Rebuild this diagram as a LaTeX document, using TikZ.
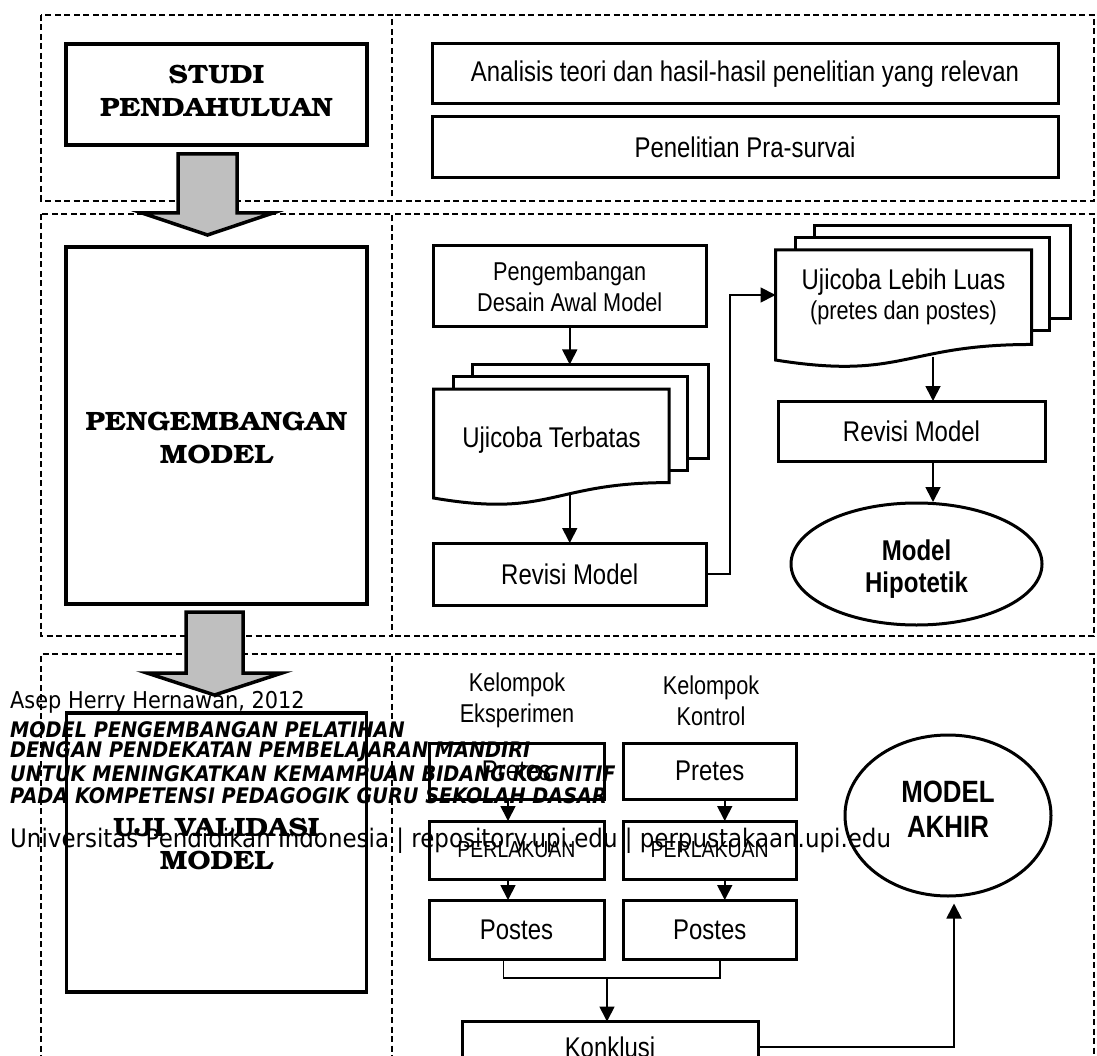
\documentclass[tikz,border=0pt]{standalone}
\usepackage{fontspec}
\usetikzlibrary{arrows.meta,calc,shapes.geometric}
\newfontfamily\nar{Liberation Sans}[FakeStretch=0.84]
\newfontfamily\bonum{texgyrebonum}[Extension=.otf,UprightFont=*-regular,BoldFont=*-bold,FakeStretch=1.1]
\newfontfamily\wmf{DejaVu Sans}[FakeStretch=0.9]
\newcommand\fs[2]{\fontsize{#1pt}{#2pt}\selectfont}
\newcommand\multidoc[1]{%
  \draw[docline] ($(#1.north west)+(39,-24.5)$) rectangle ($(#1.north east)+(39,69)$);
  \draw[docline] ($(#1.north west)+(19.5,-12.3)$) rectangle ($(#1.north east)+(18,81)$);
  \draw[docline] (#1.north west) -- (#1.north east) -- ($(#1.north east)!0.802!(#1.south east)$)
    .. controls ($(#1.north)!0.802!(#1.south)$) and ($(#1.north)!1.1075!(#1.south)$) ..
    ($(#1.north west)!0.934!(#1.south west)$) -- cycle;
}
\begin{document}
\begin{tikzpicture}[x=1pt,y=-1pt,
  frame/.style={draw, line width=1.3pt, dash pattern=on 6pt off 3.5pt},
  bigbox/.style={draw, line width=3.3pt, fill=white, inner sep=0pt, outer sep=0pt},
  bigtext/.style={inner sep=0pt, align=center, font=\bonum\bfseries\fs{26.5}{33}},
  box/.style={draw, line width=3pt, fill=white, inner sep=0pt, outer sep=0pt, align=center, font=\nar\fs{28.5}{31}},
  docnode/.style={inner sep=0pt, outer sep=0pt},
  docline/.style={draw, line width=3pt, fill=white, line join=miter},
  lbl/.style={inner sep=0pt, align=center, font=\nar\fs{25.8}{31}},
  conn/.style={line width=1.8pt},
  arr/.style={conn, -{Triangle[length=15pt,width=15pt]}},
  blockarrow/.style={draw, line width=3.5pt, fill=black!25, line join=miter},
  wm/.style={anchor=west, inner sep=0pt}
]
\useasboundingbox (0,0) rectangle (1097,1056);
\fill[white] (0,0) rectangle (1097,1056);

% dashed frames
\draw[frame] (41,15) rectangle (392,201);
\draw[frame] (395,15) -- (1094,15) -- (1094,201) -- (395,201);
\draw[frame] (41,214) rectangle (392,636);
\draw[frame] (395,214) -- (1094,214) -- (1094,636) -- (395,636);
\draw[frame] (41,1080) -- (41,654) -- (392,654) -- (392,1080);
\draw[frame] (395,654) -- (1094,654) -- (1094,1080);

% block arrows
\draw[blockarrow] (178,154) -- (237,154) -- (237,213) -- (273,213) -- (207.5,235) -- (142,213) -- (178,213) -- cycle;
\draw[blockarrow] (186,612) -- (243,612) -- (243,673) -- (282,673) -- (214.5,695) -- (147,673) -- (186,673) -- cycle;

% left column
\node[bigbox, minimum width=301pt, minimum height=101pt] (studi) at (216.5,94.5) {};
\node[bigtext] (studit) at ($(studi)+(0,-3.5)$) {STUDI\\PENDAHULUAN};
\node[bigbox, minimum width=301pt, minimum height=357pt] (pmodel) at (216.5,425.5) {};
\node[bigtext] (pmodelt) at ($(pmodel)+(0,12.5)$) {PENGEMBANGAN\\MODEL};
\node[bigbox, minimum width=300pt, minimum height=279pt] (uji) at (216.5,852.5) {};
\node[bigtext] (ujit) at ($(uji)+(0,-9)$) {UJI VALIDASI\\MODEL};

% top right
\node[box, minimum width=626pt, minimum height=60pt] (ana) at (745,74) {Analisis teori dan hasil-hasil penelitian yang relevan};
\node[box, minimum width=626pt, minimum height=61pt] (pra) at (745,147.5) {Penelitian Pra-survai};

% middle right
\node[box, font=\nar\fs{25.8}{31}, minimum width=272.5pt, minimum height=81pt] (desain) at (569.75,286.5) {Pengembangan\\Desain Awal Model};
\node[docnode, minimum width=235.5pt, minimum height=116.7pt] (ujiT) at (551.25,447.35) {};
\multidoc{ujiT}
\node[lbl, font=\nar\fs{28.5}{31}] (ujiTt) at (551.5,440) {Ujicoba Terbatas};
\node[box, minimum width=272.5pt, minimum height=62pt] (revL) at (569.75,574) {Revisi Model};
\node[docnode, minimum width=256pt, minimum height=117.8pt] (ujiL) at (903.5,308.9) {};
\multidoc{ujiL}
\node[lbl, font=\nar\fs{25.8}{30}] (ujiLt) at (903.5,297) {{\fs{28.5}{30}Ujicoba Lebih Luas}\\(pretes dan postes)};
\node[box, minimum width=267pt, minimum height=60pt] (revR) at (911.5,431) {Revisi Model};
\node[ellipse, draw, line width=3pt, fill=white, inner sep=0pt, minimum width=251pt, minimum height=122pt] (hip) at (916.5,564) {};
\node[lbl, font=\nar\bfseries\fs{28.6}{32}] (hipt) at ($(hip)+(0,5)$) {Model\\Hipotetik};

\draw[arr] (desain.south) -- ($(ujiT.north)+(18.5,-24.5)$);
\draw[arr] ($(ujiT.south)+(18.5,-11)$) -- (revL.north);
\draw[arr] (revL.east) -- ++(24,0) |- ($(ujiL.north west)+(0,45)$);
\draw[arr] ($(ujiL.south)+(29.5,-11)$) -- ($(revR.north)+(21.5,0)$);
\draw[arr] ($(revR.south)+(21.5,0)$) -- ($(hip.north)+(16.5,0.5)$);

% bottom right
\node[lbl] (kel1) at (517,700.5) {Kelompok\\Eksperimen};
\node[lbl] (kel2) at (711,700.5) {Kelompok\\Kontrol};
\node[box, minimum width=175pt, minimum height=56pt] (pre1) at (516.5,771) {Pretes};
\node[box, minimum width=173.5pt, minimum height=56pt] (pre2) at (709.75,771) {Pretes};
\node[box, font=\nar\fs{23.2}{26}, minimum width=175pt, minimum height=58pt] (per1) at (516.5,850) {PERLAKUAN};
\node[box, font=\nar\fs{23.2}{26}, minimum width=173.5pt, minimum height=58pt] (per2) at (709.75,850) {PERLAKUAN};
\node[box, minimum width=175pt, minimum height=59pt] (pos1) at (516.5,929.5) {Postes};
\node[box, minimum width=173.5pt, minimum height=59pt] (pos2) at (709.75,929.5) {Postes};
\node[box, minimum width=296pt, minimum height=51pt] (konk) at (610,1047) {Konklusi};
\node[ellipse, draw, line width=3pt, fill=white, inner sep=0pt, minimum width=206pt, minimum height=161pt] (akhir) at (948,815.5) {};
\node[lbl, font=\nar\bfseries\fs{30.8}{35}] (akhirt) at ($(akhir)+(0,-6)$) {MODEL\\AKHIR};

\draw[arr] ($(pre1.south)+(-8.5,0)$) -- ($(per1.north)+(-8.5,0)$);
\draw[arr] ($(pre2.south)+(15,0)$) -- ($(per2.north)+(15,0)$);
\draw[arr] ($(per1.south)+(-8.5,0)$) -- ($(pos1.north)+(-8.5,0)$);
\draw[arr] ($(per2.south)+(15,0)$) -- ($(pos2.north)+(15,0)$);
\draw[conn, line width=1.5pt] ($(pos1.south)+(-13,0)$) -- ++(0,19) -| ($(pos2.south)+(10.3,0)$);
\coordinate (mid) at ($(konk.north)+(-3,-43.7)$);
\draw[arr] (mid) -- ($(konk.north)+(-3,0)$);
\draw[arr] (konk.east) -| ($(akhir.south)+(6,6)$);

% watermark
\node[wm, font=\wmf\fs{23.2}{24}] (w1) at (10,702.5) {Asep Herry Hernawan, 2012};
\node[wm, font=\wmf\bfseries\itshape\fs{21.4}{22}] (w2) at (10,730) {MODEL PENGEMBANGAN PELATIHAN};
\node[wm, font=\wmf\bfseries\itshape\fs{21.4}{22}] (w3) at (10,751.7) {DENGAN PENDEKATAN PEMBELAJARAN MANDIRI};
\node[wm, font=\wmf\bfseries\itshape\fs{21.4}{22}] (w4) at (10,773.3) {UNTUK MENINGKATKAN KEMAMPUAN BIDANG KOGNITIF};
\node[wm, font=\wmf\bfseries\itshape\fs{21.4}{22}] (w5) at (10,796) {PADA KOMPETENSI PEDAGOGIK GURU SEKOLAH DASAR};
\node[wm, font=\wmf\fs{25.5}{26}] (w6) at (10,841) {Universitas Pendidikan Indonesia | repository.upi.edu | perpustakaan.upi.edu};
\end{tikzpicture}
\end{document}
